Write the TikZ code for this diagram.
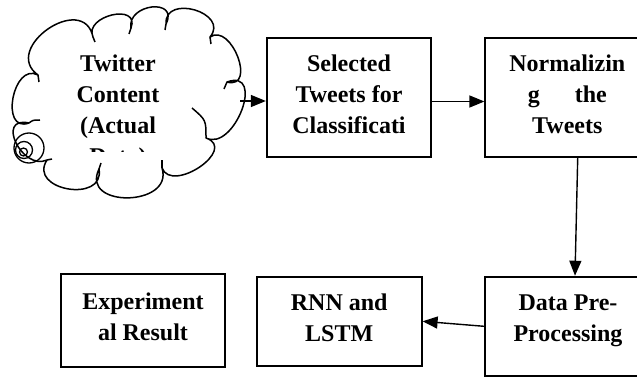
\documentclass[tikz,border=0pt]{standalone}
\usepackage{fontspec}
\setmainfont{Liberation Serif}
\usetikzlibrary{calc,arrows.meta}
\newcommand\cpuff[3]{.. controls ($0.583*#1+1.333*#2-0.917*#3$) and ($0.583*#3+1.333*#2-0.917*#1$) .. #3}
\begin{document}
\begin{tikzpicture}[x=1pt,y=-1pt,
  box/.style={draw,line width=1.8pt,inner sep=0pt},
  lbl/.style={font=\fontsize{24}{31}\selectfont\bfseries,align=center,inner sep=0pt},
  arr/.style={line width=1.4pt,-{Triangle[length=15pt,width=12pt]}},
  cloudline/.style={draw,line width=1.5pt,line join=round},
  ring/.style={draw,line width=1.3pt}]
\useasboundingbox (0,0) rectangle (637,377);
\fill[white] (0,0) rectangle (637,377);
\begin{scope}
\clip (0,0) rectangle (637,377);
% cloud outline
\draw[cloudline] (29,123) \cpuff{(29,123)}{(13,98)}{(38,75)}
  \cpuff{(38,75)}{(48,29)}{(93,37)}
  \cpuff{(93,37)}{(112,15)}{(131,28)}
  \cpuff{(131,28)}{(152,7)}{(166,24)}
  \cpuff{(166,24)}{(195,10)}{(210,37)}
  \cpuff{(210,37)}{(238,57)}{(227,82)}
  \cpuff{(227,82)}{(242,110)}{(206,138)}
  \cpuff{(206,138)}{(200,167)}{(162,168)}
  \cpuff{(162,168)}{(128,198)}{(99,169)}
  \cpuff{(99,169)}{(68,189)}{(47,160)}
  \cpuff{(47,160)}{(16,143)}{(29,123)};
% inner hooks of the cloud
\draw[cloudline] (29,123) .. controls (33,120) .. (40,120);
\draw[cloudline] (38,75) .. controls (38,78) .. (39,82);
\draw[cloudline] (93,37) .. controls (94,39) .. (95,42);
\draw[cloudline] (131,28) .. controls (130,31) .. (129,34);
\draw[cloudline] (166,24) .. controls (165,27) .. (165,30);
\draw[cloudline] (210,37) .. controls (211,40) .. (211,44);
\draw[cloudline] (227,82) .. controls (226,86) .. (224,89);
\draw[cloudline] (206,138) .. controls (206,120) .. (192,108);
\draw[cloudline] (162,168) .. controls (162,164) .. (162,160);
\draw[cloudline] (99,169) .. controls (100,166) .. (101,163);
\draw[cloudline] (47,160) .. controls (49,160) .. (52,159);
\coordinate (twc) at (240,101);
% thought-bubble rings
\draw[ring] (29,148) circle (15pt);
\draw[ring] (24,150) circle (8.5pt);
\draw[ring] (23.5,152) circle (4pt);
% boxes
\node[box,minimum width=164.5pt,minimum height=119.6pt] (sel) at (349,97.5) {};
\node[box,minimum width=164pt,minimum height=119.6pt] (norm) at (567.3,97.5) {};
\node[box,minimum width=164.6pt,minimum height=92.4pt] (exp) at (143,320.5) {};
\node[box,minimum width=165pt,minimum height=89.3pt] (rnn) at (339.2,321.3) {};
\node[box,minimum width=166pt,minimum height=99.3pt] (data) at (568,326.3) {};
% labels
\begin{scope}
\clip (0,0) rectangle (637,151.5);
\node[lbl] (twtxt) at (118,112.5) {Twitter\\Content\\(Actual\\Data)};
\end{scope}
\node[lbl] (seltxt) at (349,94.6) {Selected\\Tweets for\\Classificati};
\node[lbl] (normtxt) at (567.3,94.6) {Normalizin\\g\hspace{35pt}the\\Tweets};
\node[lbl] (exptxt) at (143,316.5) {Experiment\\al Result};
\node[lbl] (rnntxt) at (339.2,317.4) {RNN and\\LSTM};
\node[lbl] (datatxt) at (568,320.4) {Data Pre-\\Processing};
% connectors
\draw[arr] (twc) -- (twc -| sel.west);
\draw[arr] ([yshift=-4pt]sel.east) -- ([yshift=-4pt]norm.west);
\draw[arr] ([xshift=10.4pt]norm.south) -- ([xshift=7pt]data.north);
\draw[arr] (data.west) -- (rnn.east);
\end{scope}
\end{tikzpicture}
\end{document}
